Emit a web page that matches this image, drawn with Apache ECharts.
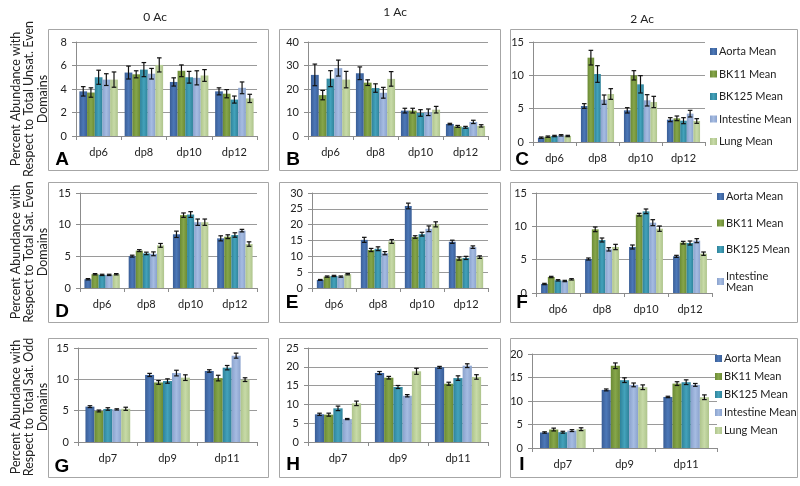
<!DOCTYPE html>
<html>
<head>
<meta charset="utf-8">
<script src="https://cdn.jsdelivr.net/npm/echarts@6/dist/echarts.min.js"></script>
<style>html,body{margin:0;padding:0;background:#fff;}#c{width:800px;height:486px;}</style>
</head>
<body>
<div id="c"></div>
<script>
// ---------- DATA ----------
const seriesNames = ['Aorta Mean', 'BK11 Mean', 'BK125 Mean', 'Intestine Mean', 'Lung Mean'];
const evenCats = ['dp6', 'dp8', 'dp10', 'dp12'];
const oddCats = ['dp7', 'dp9', 'dp11'];
const colTitles = ['0 Ac', '1 Ac', '2 Ac'];
const rowTitles = [
  'Percent Abundance with\nRespect to Total Unsat. Even\nDomains',
  'Percent Abundance with\nRespect to Total Sat. Even\nDomains',
  'Percent Abundance with\nRespect to Total Sat. Odd\nDomains'
];
const panelLetters = ['A', 'B', 'C', 'D', 'E', 'F', 'G', 'H', 'I'];

// means: rows = series (Aorta, BK11, BK125, Intestine, Lung), cols = categories
const A_mean = [[3.8, 5.4, 4.6, 3.8], [3.7, 5.25, 5.55, 3.6], [5.0, 5.65, 5.0, 3.1], [4.8, 5.3, 4.95, 4.1], [4.8, 6.05, 5.15, 3.2]];
const A_err  = [[0.4, 0.55, 0.35, 0.3], [0.4, 0.3, 0.5, 0.35], [0.6, 0.6, 0.5, 0.3], [0.5, 0.45, 0.6, 0.5], [0.65, 0.6, 0.5, 0.35]];
const B_mean = [[26, 26.7, 10.8, 5.1], [17.4, 22.7, 10.8, 4.1], [24.4, 20.4, 9.8, 3.7], [28.9, 18.4, 10.1, 6.0], [24, 24.3, 11.2, 4.3]];
const B_err  = [[4.6, 2.7, 1.0, 0.3], [2.0, 1.2, 1.0, 0.4], [3.4, 1.8, 1.4, 0.4], [3.4, 2.3, 1.4, 0.7], [3.5, 3.1, 1.4, 0.5]];
const C_mean = [[0.65, 5.4, 4.75, 3.35], [0.8, 12.65, 10.0, 3.55], [0.9, 10.2, 8.65, 3.2], [1.0, 6.35, 6.25, 4.25], [0.9, 7.2, 6.0, 3.15]];
const C_err  = [[0.1, 0.35, 0.4, 0.3], [0.1, 1.1, 0.7, 0.35], [0.1, 1.25, 1.3, 0.45], [0.1, 0.7, 0.85, 0.5], [0.1, 0.8, 0.85, 0.35]];
const D_mean = [[1.38, 5.03, 8.48, 7.84], [2.17, 5.9, 11.5, 8.1], [2.07, 5.46, 11.6, 8.37], [2.07, 5.4, 10.39, 9.06], [2.17, 6.73, 10.39, 6.94]];
const D_err  = [[0.1, 0.15, 0.5, 0.4], [0.1, 0.15, 0.35, 0.3], [0.1, 0.2, 0.45, 0.35], [0.1, 0.3, 0.5, 0.2], [0.1, 0.3, 0.5, 0.35]];
const E_mean = [[2.55, 15.2, 25.9, 14.6], [3.6, 12.0, 16.1, 9.3], [3.8, 12.4, 17.0, 9.5], [3.6, 11.0, 18.7, 12.9], [4.35, 14.7, 20.1, 9.75]];
const E_err  = [[0.15, 0.8, 0.9, 0.5], [0.2, 0.5, 0.4, 0.5], [0.2, 0.6, 0.6, 0.5], [0.2, 0.5, 0.9, 0.4], [0.2, 0.6, 0.8, 0.4]];
const F_mean = [[1.35, 5.1, 6.9, 5.5], [2.4, 9.55, 11.75, 7.55], [1.9, 7.95, 12.25, 7.5], [1.8, 6.55, 10.55, 7.85], [2.05, 6.9, 9.65, 5.9]];
const F_err  = [[0.1, 0.15, 0.3, 0.15], [0.1, 0.35, 0.2, 0.2], [0.1, 0.3, 0.35, 0.3], [0.1, 0.25, 0.45, 0.3], [0.1, 0.4, 0.4, 0.25]];
const G_mean = [[5.64, 10.7, 11.33], [4.95, 9.5, 10.2], [5.27, 9.73, 11.86], [5.2, 11.0, 13.78], [5.3, 10.27, 9.95]];
const G_err  = [[0.15, 0.25, 0.2], [0.15, 0.3, 0.45], [0.2, 0.35, 0.35], [0.1, 0.45, 0.4], [0.25, 0.45, 0.3]];
const H_mean = [[7.36, 18.35, 19.86], [7.27, 17.1, 15.5], [8.95, 14.63, 17.0], [6.1, 12.3, 20.3], [10.28, 18.8, 17.3]];
const H_err  = [[0.3, 0.4, 0.25], [0.4, 0.35, 0.4], [0.6, 0.4, 0.6], [0.15, 0.3, 0.5], [0.6, 0.8, 0.6]];
const I_mean = [[3.3, 12.36, 10.86], [3.93, 17.5, 13.7], [3.36, 14.43, 14.0], [3.7, 13.43, 13.43], [4.0, 12.93, 10.8]];
const I_err  = [[0.15, 0.2, 0.15], [0.3, 0.6, 0.4], [0.2, 0.5, 0.5], [0.2, 0.4, 0.3], [0.3, 0.5, 0.5]];
const yMax = [8, 40, 15, 15, 30, 15, 15, 25, 20];
const yInterval = [2, 10, 5, 5, 5, 5, 5, 5, 5];

// ---------- STYLE / LAYOUT ----------
const FONT = 'Lato';
const colorPairs = [
  ['#3a5e96', '#4c78b8'],
  ['#6b8a35', '#86a64a'],
  ['#2f8299', '#43a2bb'],
  ['#8aa2cd', '#a6bce2'],
  ['#aec48c', '#c7daa7']
];
function grad(p) {
  return { type: 'linear', x: 0, y: 0, x2: 1, y2: 0,
    colorStops: [{ offset: 0, color: p[0] }, { offset: 0.5, color: p[1] }, { offset: 1, color: p[0] }] };
}
const panelData = [
  [A_mean, A_err, evenCats], [B_mean, B_err, evenCats], [C_mean, C_err, evenCats],
  [D_mean, D_err, evenCats], [E_mean, E_err, evenCats], [F_mean, F_err, evenCats],
  [G_mean, G_err, oddCats], [H_mean, H_err, oddCats], [I_mean, I_err, oddCats]
];
const gridBox = [
  [76, 42, 257, 136, 0.15], [308, 42, 488, 136, 0.13], [533, 42, 705, 142, 0.23],
  [80, 193, 257, 288, 0.20], [312, 193, 488, 288, 0.22], [536, 193, 712, 293, 0.23],
  [78, 348, 257, 442, 0.25], [308, 348, 488, 442, 0.23], [532, 354, 717, 448, 0.26]
];
const boxCols = [[48, 268], [279, 500], [510, 797]];
const boxRows = [[29, 170], [182, 322], [338, 477]];
const letterPos = [[62, 160], [293, 160], [522, 160], [62, 312], [292, 303], [522, 303], [62, 467], [293, 465], [522, 465]];
const titlePos = [[155, 17], [395, 12], [642, 19]];
const rowTitleY = [99, 252, 407];

const grids = [], xAxes = [], yAxes = [], series = [], graphics = [];
const axisCol = '#8c8c8c';

panelData.forEach((pd, pi) => {
  const [means, errs, cats] = pd;
  const g = gridBox[pi];
  const gap = g[4];
  grids.push({ left: g[0], top: g[1], width: g[2] - g[0], height: g[3] - g[1], containLabel: false });
  xAxes.push({
    type: 'category', gridIndex: pi, data: cats,
    axisLine: { lineStyle: { color: axisCol } },
    axisTick: { show: true, length: 4, lineStyle: { color: axisCol } },
    axisLabel: { color: '#222', fontFamily: FONT, fontSize: 11, margin: 11 }
  });
  yAxes.push({
    type: 'value', gridIndex: pi, min: 0, max: yMax[pi], interval: yInterval[pi],
    axisLine: { show: true, lineStyle: { color: axisCol } },
    axisTick: { show: true, length: 4, lineStyle: { color: axisCol } },
    axisLabel: { color: '#222', fontFamily: FONT, fontSize: 11, margin: 9 },
    splitLine: { show: true, lineStyle: { color: '#9a9a9a', width: 1 } }
  });
  means.forEach((vals, s) => {
    series.push({
      type: 'bar', name: seriesNames[s], xAxisIndex: pi, yAxisIndex: pi,
      data: vals, barGap: '0%', barCategoryGap: (gap * 100) + '%',
      itemStyle: { color: grad(colorPairs[s]) }, silent: true
    });
  });
  const eData = [];
  means.forEach((vals, s) => vals.forEach((m, ci) => eData.push([ci, s, m, errs[s][ci]])));
  series.push({
    type: 'custom', xAxisIndex: pi, yAxisIndex: pi, z: 10, silent: true,
    data: eData, encode: { x: 0, y: 2 },
    renderItem: function (params, api) {
      const ci = api.value(0), s = api.value(1), m = api.value(2), e = api.value(3);
      const band = api.size([1, 0])[0];
      const inner = band * (1 - gap);
      const bw = inner / 5;
      const cx = api.coord([ci, m])[0] - inner / 2 + (s + 0.5) * bw;
      const yT = api.coord([ci, m + e])[1];
      const yB = api.coord([ci, m - e])[1];
      const cap = 2.3;
      const st = { stroke: '#111', lineWidth: 1.2 };
      return { type: 'group', children: [
        { type: 'line', shape: { x1: cx, y1: yT, x2: cx, y2: yB }, style: st },
        { type: 'line', shape: { x1: cx - cap, y1: yT, x2: cx + cap, y2: yT }, style: st },
        { type: 'line', shape: { x1: cx - cap, y1: yB, x2: cx + cap, y2: yB }, style: st }
      ] };
    }
  });
  // panel box
  const c = boxCols[pi % 3], r = boxRows[Math.floor(pi / 3)];
  graphics.push({ type: 'rect', z: -1, shape: { x: c[0] + 0.5, y: r[0] + 0.5, width: c[1] - c[0], height: r[1] - r[0] },
    style: { fill: 'none', stroke: '#a6a6a6', lineWidth: 1 } });
  graphics.push({ type: 'text', x: letterPos[pi][0], y: letterPos[pi][1],
    style: { text: panelLetters[pi], fontFamily: 'Liberation Sans', fontWeight: 'bold', fontSize: 19,
      fill: '#000', textAlign: 'center', textVerticalAlign: 'middle' } });
});

colTitles.forEach((t, i) => {
  graphics.push({ type: 'text', x: titlePos[i][0], y: titlePos[i][1],
    style: { text: t, fontFamily: FONT, fontSize: 12, fill: '#222', textAlign: 'center', textVerticalAlign: 'middle' } });
});
rowTitles.forEach((t, i) => {
  graphics.push({ type: 'text', x: 29, y: rowTitleY[i], rotation: Math.PI / 2,
    style: { text: t, fontFamily: FONT, fontSize: 12.5, lineHeight: 13.5, fill: '#222', textAlign: 'center', textVerticalAlign: 'middle' } });
});

const legendBase = {
  orient: 'vertical', icon: 'rect', itemWidth: 7, itemHeight: 7, selectedMode: false, padding: 0,
  textStyle: { fontFamily: FONT, fontSize: 11, color: '#222', padding: [0, 0, 0, -3] }
};
const legends = [
  Object.assign({}, legendBase, { left: 710, top: 46, itemGap: 11.5, data: seriesNames }),
  Object.assign({}, legendBase, { left: 717, top: 191, itemGap: 15.5, data: seriesNames.slice(0, 4),
    formatter: n => n === 'Intestine Mean' ? 'Intestine\nMean' : n }),
  Object.assign({}, legendBase, { left: 715, top: 353, itemGap: 7, data: seriesNames })
];

const chart = echarts.init(document.getElementById('c'), null, { renderer: 'canvas' });
chart.setOption({
  animation: false,
  backgroundColor: '#fff',
  grid: grids, xAxis: xAxes, yAxis: yAxes, series: series,
  legend: legends, graphic: graphics
});
</script>
</body>
</html>
